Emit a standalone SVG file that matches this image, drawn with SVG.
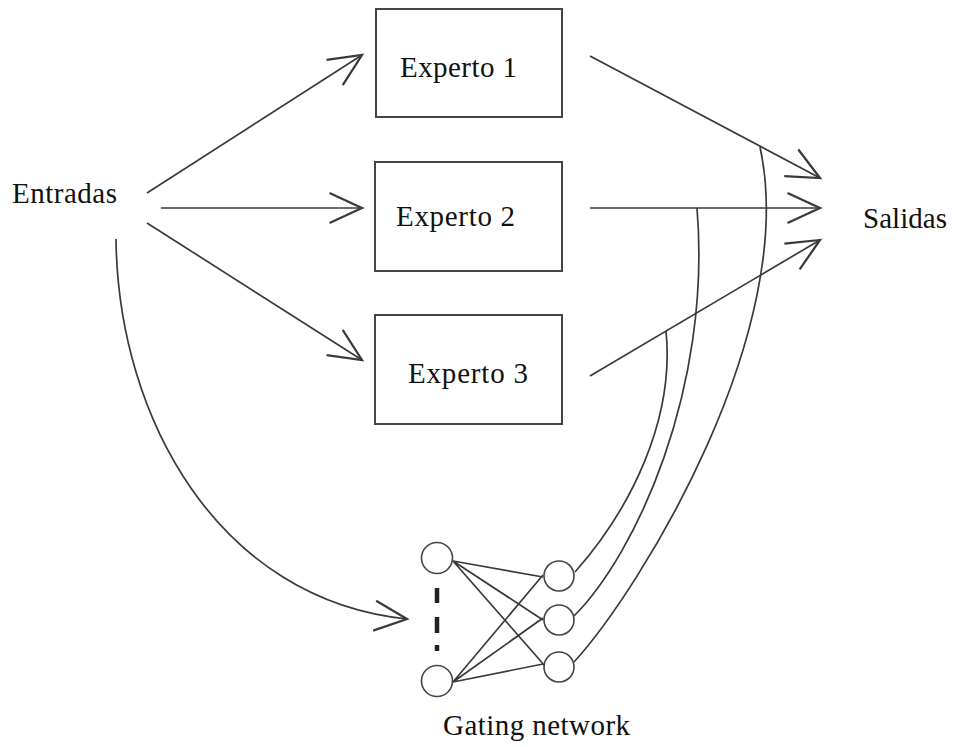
<svg xmlns="http://www.w3.org/2000/svg" width="953" height="747" viewBox="0 0 953 747">
<defs>
<marker id="ah" markerUnits="userSpaceOnUse" markerWidth="40" markerHeight="40" refX="0" refY="0" viewBox="-30 -15 32 30" orient="auto" overflow="visible">
<path d="M-26,-12 L0,0 L-26,12" fill="none" stroke="#3a3a3a" stroke-width="1.8"/>
</marker>
<style>
.box{fill:#fff;stroke:#444;stroke-width:2}
.ln{fill:none;stroke:#3a3a3a;stroke-width:1.7}
.arr{fill:none;stroke:#3a3a3a;stroke-width:1.7;marker-end:url(#ah)}
.nd{fill:#fff;stroke:#444;stroke-width:1.6}
.t{font-size:29px;fill:#111}
</style>
</defs>
<rect width="953" height="747" fill="#fff"/>
<g id="connectors">
<path class="arr" d="M147,193 L362,55"/>
<path class="arr" d="M161,208 L362,208"/>
<path class="arr" d="M147,223 L362,360"/>
<path class="arr" d="M590,56 L820,178"/>
<path class="arr" d="M590,208 L820,208"/>
<path class="arr" d="M590,376 L820,240"/>
<path class="arr" d="M116,239 C118,420 220,600 407,619"/>
<path class="ln" d="M575,572 C630,510 675,420 666,331"/>
<path class="ln" d="M574,616 C635,555 712,390 697,208"/>
<path class="ln" d="M574,662 C640,590 800,330 760,147"/>
<path class="ln" d="M453,561 L543,577 M453,561 L543,620 M453,561 L545,666 M453,682 L543,575 M453,682 L543,618 M453,682 L543,664"/>
<path d="M437,588 V603 M437,617 V633 M437,645 V651" stroke="#222" stroke-width="4.5" fill="none"/>
</g>
<g id="experto1"><rect class="box" x="376" y="9" width="186" height="108"/><text class="t" font-family="'Liberation Serif', 'DejaVu Serif', serif" x="400" y="77" textLength="117">Experto 1</text></g>
<g id="experto2"><rect class="box" x="375" y="162" width="187" height="109"/><text class="t" font-family="'Liberation Serif', 'DejaVu Serif', serif" x="396" y="226" textLength="119">Experto 2</text></g>
<g id="experto3"><rect class="box" x="375" y="315" width="187" height="109"/><text class="t" font-family="'Liberation Serif', 'DejaVu Serif', serif" x="408" y="383" textLength="120">Experto 3</text></g>
<g id="entradas"><text class="t" font-family="'Liberation Serif', 'DejaVu Serif', serif" x="12" y="203" textLength="105">Entradas</text></g>
<g id="salidas"><text class="t" font-family="'Liberation Serif', 'DejaVu Serif', serif" x="863" y="228" textLength="84">Salidas</text></g>
<g id="gating">
<circle class="nd" cx="437" cy="558" r="15.5"/>
<circle class="nd" cx="437" cy="681" r="15.5"/>
<circle class="nd" cx="559" cy="576" r="15"/>
<circle class="nd" cx="559" cy="620" r="15"/>
<circle class="nd" cx="559" cy="667" r="15"/>
<text class="t" font-family="'Liberation Serif', 'DejaVu Serif', serif" x="443" y="735" textLength="187">Gating network</text>
</g>
</svg>
